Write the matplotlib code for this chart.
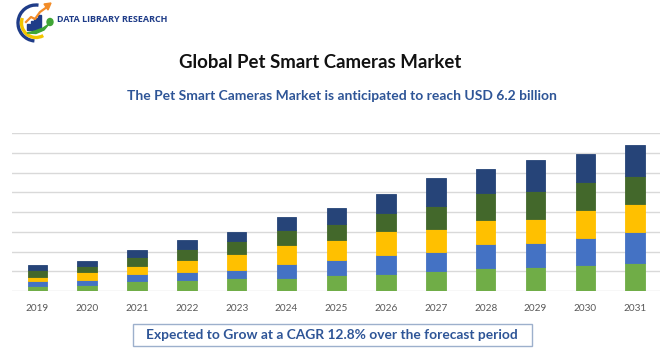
import matplotlib
matplotlib.use("Agg")
import matplotlib.pyplot as plt
import numpy as np
from matplotlib.patches import Rectangle, Arc, Polygon, Ellipse

years = ["2019", "2020", "2021", "2022", "2023", "2024", "2025",
         "2026", "2027", "2028", "2029", "2030", "2031"]
seg_green = [0.25, 0.30, 0.51, 0.56, 0.64, 0.68, 0.80, 0.88, 1.00, 1.18, 1.20, 1.30, 1.40]
seg_blue = [0.27, 0.26, 0.34, 0.40, 0.44, 0.69, 0.77, 0.96, 0.98, 1.19, 1.22, 1.39, 1.59]
seg_yellow = [0.21, 0.40, 0.42, 0.61, 0.82, 0.98, 1.02, 1.22, 1.15, 1.22, 1.25, 1.42, 1.44]
seg_dgreen = [0.32, 0.31, 0.47, 0.56, 0.65, 0.75, 0.83, 0.90, 1.18, 1.40, 1.41, 1.42, 1.39]
seg_navy = [0.29, 0.27, 0.36, 0.44, 0.45, 0.66, 0.78, 0.96, 1.43, 1.19, 1.55, 1.42, 1.61]

series = [seg_green, seg_blue, seg_yellow, seg_dgreen, seg_navy]
colors = ["#70AD47", "#4472C4", "#FFC000", "#43682B", "#264478"]

W, H = 670, 350
fig = plt.figure(figsize=(6.7, 3.5), dpi=100)
tfont = ["Lato", "DejaVu Sans"]

ax = fig.add_axes([12 / W, 1 - 291 / H, 648 / W, 157.7 / H])
x = np.arange(len(years))
bottom = np.zeros(len(years))
for vals, c in zip(series, colors):
    ax.bar(x, vals, width=0.39, bottom=bottom, color=c, edgecolor=c, linewidth=0.6, zorder=3)
    bottom += np.array(vals)

ax.set_xlim(-0.51, 12.5)
ax.set_ylim(0, 8)
ax.set_yticks(np.arange(0, 9, 1))
ax.yaxis.grid(True, color="#d9d9d9", linewidth=1.0, zorder=0)
ax.tick_params(axis="y", left=False, labelleft=False)
ax.tick_params(axis="x", bottom=False, labelsize=7.2, labelcolor="#595959", pad=6)
ax.set_xticks(x)
ax.set_xticklabels(years, family=tfont)
for s in ax.spines.values():
    s.set_visible(False)

# Titles
fig.text(320 / W, 1 - 63 / H, "Global Pet Smart Cameras Market", ha="center", va="center",
         fontsize=13.4, fontweight="bold", color="#111111", family=tfont)
fig.text(342 / W, 1 - 95.5 / H, "The Pet Smart Cameras Market is anticipated to reach USD 6.2 billion",
         ha="center", va="center", fontsize=10.0, fontweight="bold", color="#2E5597",
         family=tfont)

# Bottom box
fig.patches.append(Rectangle((133 / W, 1 - 346 / H), 399 / W, 22 / H, transform=fig.transFigure,
                             facecolor="white", edgecolor="#9DB0CC", linewidth=1.0))
fig.text(332 / W, 1 - 335 / H, "Expected to Grow at a CAGR 12.8% over the forecast period",
         ha="center", va="center", fontsize=9.9, fontweight="bold", color="#2E5597",
         family=tfont)

# Logo (pixel coordinates, y downward)
lax = fig.add_axes([0, 1 - 45 / H, 60 / W, 45 / H])
lax.set_xlim(0, 60)
lax.set_ylim(45, 0)
lax.axis("off")
lax.add_patch(Arc((36, 23), 36, 36, theta1=95, theta2=278, color="#1F3C88", linewidth=2.4))
lax.add_patch(Arc((36, 23), 29, 29, theta1=60, theta2=200, color="#F2C500", linewidth=2.4))
for i, h in enumerate([6, 9, 12, 15]):
    lax.add_patch(Rectangle((27 + i * 3.6, 30 - h), 2.8, h, color="#1F3C88"))
lax.plot([26, 31, 35, 40, 47], [22, 17, 19, 12, 7], color="#F28C28", linewidth=1.6)
lax.add_patch(Polygon([[51, 3], [44, 4], [48, 10]], closed=True, color="#F28C28"))
lax.add_patch(Polygon([[27, 33], [36, 33.5], [44, 30], [49, 24], [43, 28], [35, 31]], closed=True,
                      color="#3FA535"))
lax.add_patch(Ellipse((50, 22), 6, 7, color="#3FA535"))
fig.text(57 / W, 1 - 20 / H, "DATA LIBRARY RESEARCH", ha="left", va="center", fontsize=6.5,
         fontweight="bold", color="#1F3C88", family=["Open Sans", "DejaVu Sans"],
         fontstretch="condensed")

fig.savefig("out.png", dpi=100)
